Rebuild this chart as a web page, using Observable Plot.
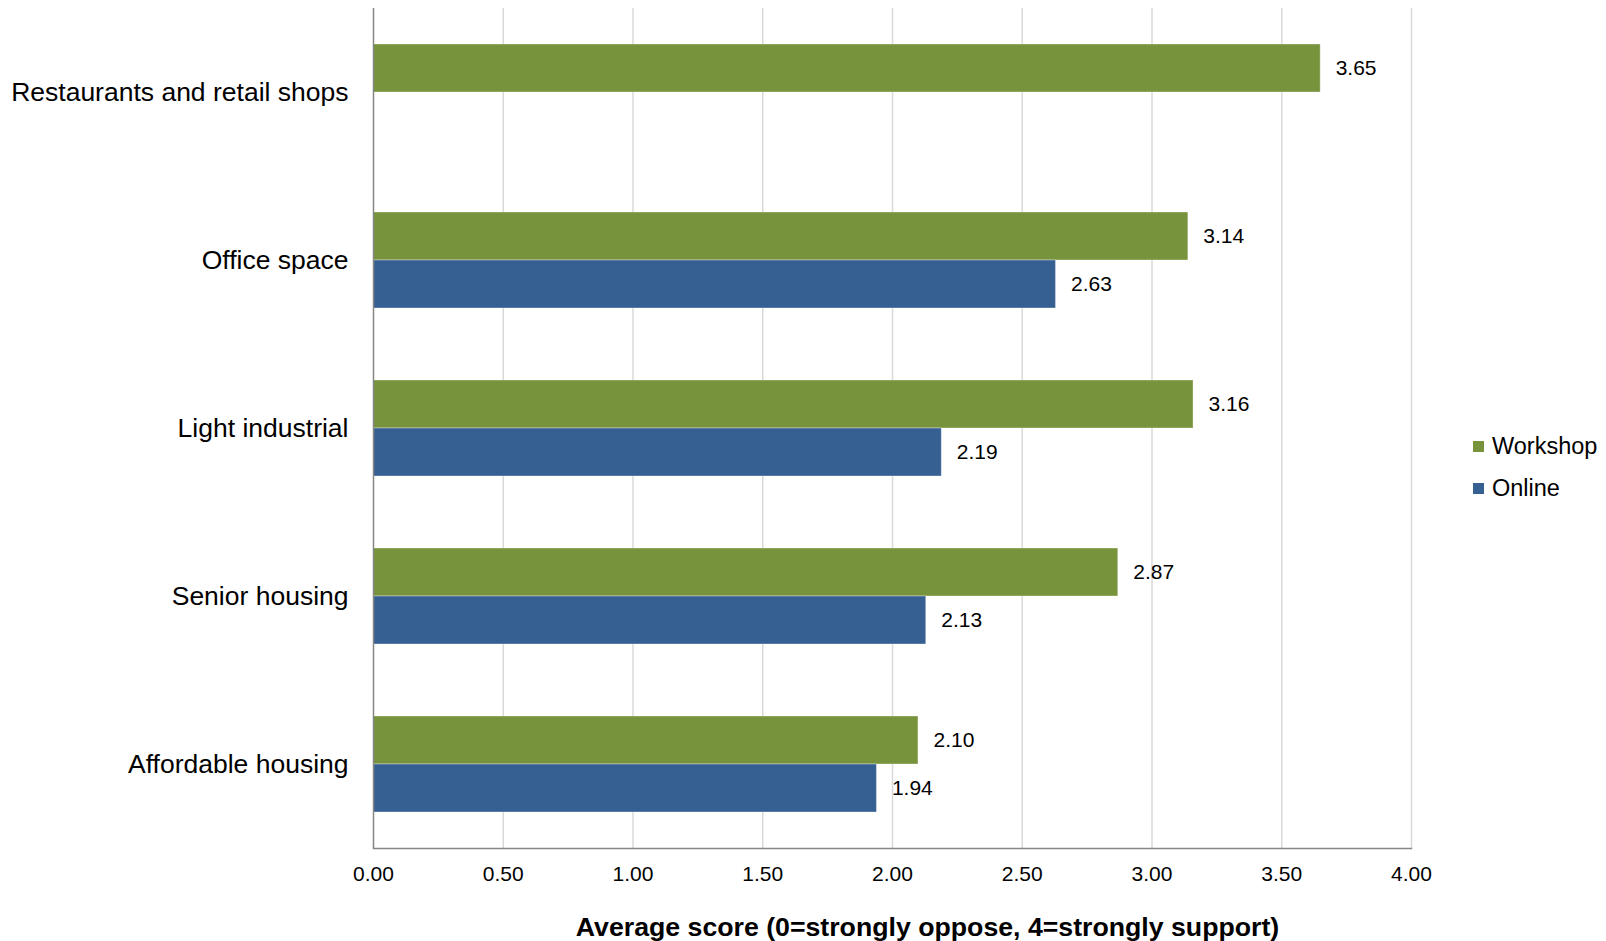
<!DOCTYPE html>
<html>
<head>
<meta charset="utf-8">
<script src="https://cdn.jsdelivr.net/npm/d3@7"></script>
<script src="https://cdn.jsdelivr.net/npm/@observablehq/plot@0.6"></script>
<style>
  html, body { margin: 0; padding: 0; background: #fff; }
  #wrap { position: relative; width: 1606px; height: 941px; font-family: "Liberation Sans", Arial, sans-serif; }
  #legend { position: absolute; left: 1473px; top: 434px; font-size: 23.5px; color: #000; }
  .item { display: flex; align-items: center; height: 24px; margin-bottom: 18px; }
  .sw { width: 11px; height: 11px; margin-right: 8px; }
</style>
</head>
<body>
<div id="wrap"><div id="legend"></div></div>
<script>
const categories = ["Restaurants and retail shops", "Office space", "Light industrial", "Senior housing", "Affordable housing"];
const series = ["Workshop", "Online"];
const workshop = [3.65, 3.14, 3.16, 2.87, 2.10];
const online = [null, 2.63, 2.19, 2.13, 1.94];
const xTicks = [0, 0.5, 1, 1.5, 2, 2.5, 3, 3.5, 4];
const colors = ["#77933C", "#376092"];
const xTitle = "Average score (0=strongly oppose, 4=strongly support)";

const rows = [];
categories.forEach((c, i) => {
  if (workshop[i] != null) rows.push({category: c, series: "Workshop", value: workshop[i]});
  if (online[i] != null) rows.push({category: c, series: "Online", value: online[i]});
});

const chart = Plot.plot({
  width: 1606,
  height: 941,
  marginTop: 8,
  marginBottom: 93,
  marginLeft: 373,
  marginRight: 195,
  style: {fontFamily: "'Liberation Sans', Arial, sans-serif", background: "white", color: "#000"},
  x: {domain: [0, 4]},
  y: {domain: series, paddingInner: 0, paddingOuter: 0.744, axis: null},
  fy: {domain: categories, padding: 0},
  color: {domain: series, range: colors},
  marks: [
    Plot.gridX(xTicks.filter(d => d > 0), {stroke: "#d9d9d9", strokeOpacity: 1, strokeWidth: 1.5}),
    Plot.barX(rows, {x: "value", y: "series", fy: "category", fill: "series", stroke: "#ffffff", strokeOpacity: 0.35, strokeWidth: 1}),
    Plot.ruleX([0], {stroke: "#868686", strokeWidth: 1.5}),
    Plot.frame({anchor: "bottom", stroke: "#868686", strokeWidth: 1.5, facetAnchor: "bottom"}),
    Plot.text(rows, {x: "value", y: "series", fy: "category", text: d => d.value.toFixed(2), textAnchor: "start", dx: 15, fontSize: 21, fill: "#000"}),
    Plot.axisX({ticks: xTicks, tickFormat: d => d.toFixed(2), tickSize: 0, tickPadding: 18, fontSize: 21, label: null}),
    Plot.axisFy({anchor: "left", tickSize: 0, tickPadding: 25, fontSize: 26.5, label: null}),
    Plot.text([xTitle], {text: d => d, frameAnchor: "bottom", dy: 87, dx: 35, facetAnchor: "bottom", fontSize: 26.7, fontWeight: "bold", fill: "#000"})
  ]
});
document.getElementById("wrap").prepend(chart);

const legend = document.getElementById("legend");
series.forEach((s, i) => {
  const item = document.createElement("div");
  item.className = "item";
  const sw = document.createElement("span");
  sw.className = "sw";
  sw.style.background = colors[i];
  const t = document.createElement("span");
  t.textContent = s;
  item.append(sw, t);
  legend.append(item);
});
</script>
</body>
</html>
